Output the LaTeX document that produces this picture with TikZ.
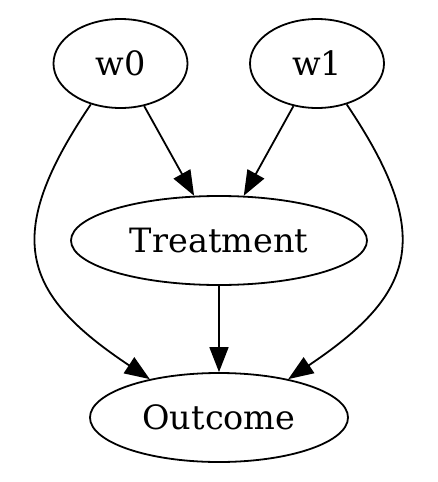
\documentclass[tikz,border=0pt]{standalone}
\usepackage{fontspec}
\setmainfont{DejaVu Serif}
\usetikzlibrary{shapes.geometric,arrows.meta}
\begin{document}
\begin{tikzpicture}[x=1pt,y=-1pt,
  every node/.style={ellipse,draw,line width=1.8pt,inner sep=0pt,font=\fontsize{33.5}{40}\selectfont},
  edge/.style={line width=1.8pt,-{Triangle[length=25pt,width=19pt]}}]
\useasboundingbox (0,0) rectangle (437,482);
\node[minimum width=134pt,minimum height=89pt] (w0) at (120.5,63.5) {w0};
\node[minimum width=134pt,minimum height=89pt] (w1) at (317,63.5) {w1};
\node[minimum width=296pt,minimum height=89pt] (T) at (219,240.5) {Treatment};
\node[minimum width=258pt,minimum height=89pt] (O) at (219,417.5) {Outcome};
\draw[edge] (w0) -- (T);
\draw[edge] (w1) -- (T);
\draw[edge] (T) -- (O);
\draw[edge] (w0.234) .. controls (1,237) and (22,294) .. (O.151);
\draw[edge] (w1.-54) .. controls (436,237) and (415,294) .. (O.29);
\end{tikzpicture}
\end{document}
